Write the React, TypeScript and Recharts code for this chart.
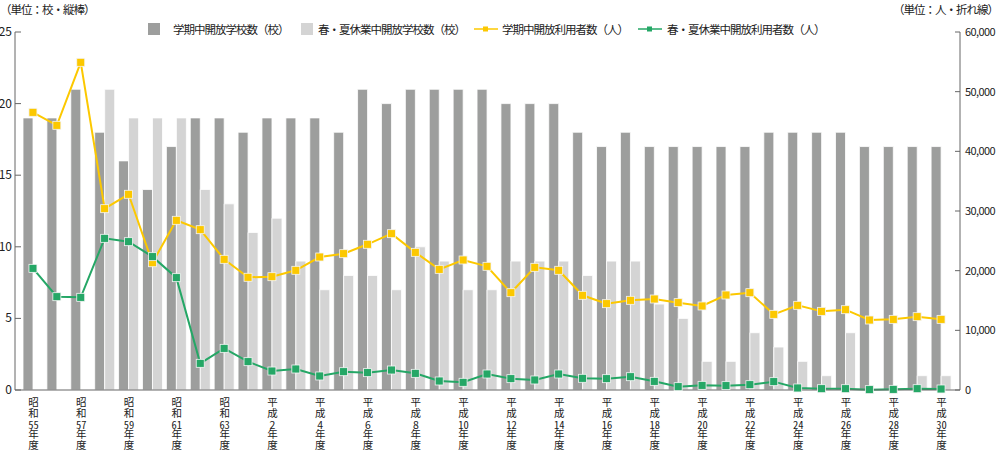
import React from 'react';
import { ComposedChart, Bar, Line, XAxis, YAxis } from 'recharts';

const categories = [
  '昭和55年度', '昭和56年度', '昭和57年度', '昭和58年度', '昭和59年度', '昭和60年度',
  '昭和61年度', '昭和62年度', '昭和63年度', '平成元年度', '平成2年度', '平成3年度',
  '平成4年度', '平成5年度', '平成6年度', '平成7年度', '平成8年度', '平成9年度',
  '平成10年度', '平成11年度', '平成12年度', '平成13年度', '平成14年度', '平成15年度',
  '平成16年度', '平成17年度', '平成18年度', '平成19年度', '平成20年度', '平成21年度',
  '平成22年度', '平成23年度', '平成24年度', '平成25年度', '平成26年度', '平成27年度',
  '平成28年度', '平成29年度', '平成30年度',
];

const termSchools = [19, 19, 21, 18, 16, 14, 17, 19, 19, 18, 19, 19, 19, 18, 21, 20, 21, 21, 21, 21, 20, 20, 20, 18, 17, 18, 17, 17, 17, 17, 17, 18, 18, 18, 18, 17, 17, 17, 17];
const vacationSchools = [0, 0, 0, 21, 19, 19, 19, 14, 13, 11, 12, 9, 7, 8, 8, 7, 10, 9, 7, 7, 9, 9, 9, 8, 9, 9, 6, 5, 2, 2, 4, 3, 2, 1, 4, 0, 0, 1, 1];
const termUsers = [46540, 44360, 54920, 30390, 32800, 21330, 28440, 26870, 21900, 18890, 18990, 20060, 22290, 22850, 24420, 26200, 23070, 20220, 21790, 20730, 16310, 20560, 20060, 15870, 14470, 15030, 15250, 14640, 14080, 15920, 16310, 12680, 14190, 13180, 13460, 11730, 11840, 12290, 11840];
const vacationUsers = [20390, 15640, 15530, 25420, 24860, 22350, 18830, 4470, 6980, 4750, 3180, 3520, 2350, 3070, 2910, 3350, 2790, 1510, 1290, 2680, 1900, 1680, 2680, 1960, 1900, 2230, 1450, 560, 780, 730, 890, 1400, 340, 220, 220, 60, 110, 220, 170];

const leftTicks = [0, 5, 10, 15, 20, 25];
const rightTicks = [0, 10000, 20000, 30000, 40000, 50000, 60000];

const seriesNames = {
  termSchools: '学期中開放学校数（校）',
  vacationSchools: '春・夏休業中開放学校数（校）',
  termUsers: '学期中開放利用者数（人）',
  vacationUsers: '春・夏休業中開放利用者数（人）',
};

const COLORS = {
  dark: '#9d9e9d',
  light: '#d4d4d4',
  yellow: '#fcc800',
  green: '#25a766',
  axis: '#666666',
  text: '#222222',
};

const FONT = "'Noto Sans CJK JP', 'Noto Sans', sans-serif";

const data = categories.map((c, i) => ({
  name: c,
  termSchools: termSchools[i],
  vacationSchools: vacationSchools[i],
  termUsers: termUsers[i],
  vacationUsers: vacationUsers[i],
}));

const XTick = (props: any) => {
  const { x, y, payload } = props;
  const s: string = payload.value;
  const era = s.slice(0, 2);
  const num = s.slice(2, -2);
  return (
    <foreignObject x={x - 10} y={y - 1} width={20} height={58}>
      <div
        style={{
          writingMode: 'vertical-rl',
          textOrientation: 'upright',
          width: 20,
          height: 58,
          lineHeight: '20px',
          fontSize: 10.5,
          letterSpacing: 0.3,
          fontFamily: FONT,
          color: COLORS.text,
          whiteSpace: 'nowrap',
        }}
      >
        {era}
        <span style={{ textCombineUpright: 'all' } as any}>{num}</span>
        年度
      </div>
    </foreignObject>
  );
};

const LeftTick = (props: any) => {
  const { x, y, payload } = props;
  return (
    <g>
      <line x1={x + 8} x2={x + 14} y1={y} y2={y} stroke={COLORS.axis} strokeWidth={1} />
      <text x={x + 5} y={y} dy={4} textAnchor="end" fontSize={12} fill={COLORS.text} fontFamily={FONT}>
        {payload.value}
      </text>
    </g>
  );
};

const RightTick = (props: any) => {
  const { x, y, payload } = props;
  return (
    <g>
      <line x1={x - 13} x2={x - 8} y1={y} y2={y} stroke={COLORS.axis} strokeWidth={1} />
      <text x={x - 3} y={y} dy={4} textAnchor="start" fontSize={11} letterSpacing={-0.6} fill={COLORS.text} fontFamily={FONT}>
        {Number(payload.value).toLocaleString('en-US')}
      </text>
    </g>
  );
};

const SquareDot = (color: string) => (props: any) => {
  const { cx, cy, index } = props;
  if (cx == null || cy == null) return <g key={index} />;
  return (
    <rect key={index} x={cx - 4} y={cy - 4} width={8} height={8} fill={color} stroke="#f4f4f4" strokeWidth={0.8} />
  );
};

const textStyle: React.CSSProperties = {
  position: 'absolute',
  fontFamily: FONT,
  fontSize: 11.5,
  letterSpacing: -1,
  color: COLORS.text,
  whiteSpace: 'nowrap',
  lineHeight: '14px',
};

const LineIcon = ({ color }: { color: string }) => (
  <svg width={24} height={8} style={{ display: 'block' }}>
    <line x1={0} x2={24} y1={4} y2={4} stroke={color} strokeWidth={1.5} />
    <rect x={9} y={1.5} width={5} height={5} fill={color} />
  </svg>
);

export default function App() {
  return (
    <div style={{ position: 'absolute', left: 0, top: 0, width: 1000, height: 453, background: '#fff' }}>
      <div style={{ ...textStyle, left: 0, top: 2 }}>（単位：校・縦棒）</div>
      <div style={{ ...textStyle, right: 2, top: 2 }}>（単位：人・折れ線）</div>

      <div style={{ position: 'absolute', left: 148, top: 23, width: 12, height: 12, background: COLORS.dark }} />
      <div style={{ ...textStyle, left: 173, top: 22 }}>{seriesNames.termSchools}</div>
      <div style={{ position: 'absolute', left: 301, top: 23, width: 12, height: 12, background: COLORS.light }} />
      <div style={{ ...textStyle, left: 318, top: 22 }}>{seriesNames.vacationSchools}</div>
      <div style={{ position: 'absolute', left: 474, top: 25 }}><LineIcon color={COLORS.yellow} /></div>
      <div style={{ ...textStyle, left: 502, top: 22 }}>{seriesNames.termUsers}</div>
      <div style={{ position: 'absolute', left: 638, top: 25 }}><LineIcon color={COLORS.green} /></div>
      <div style={{ ...textStyle, left: 667, top: 22 }}>{seriesNames.vacationUsers}</div>

      <ComposedChart
        width={1000}
        height={453}
        data={data}
        margin={{ top: 32, right: 0, bottom: 0, left: 0 }}
        barGap={0}
        style={{ position: 'absolute', left: 0, top: 0 }}
      >
        <XAxis
          dataKey="name"
          interval={1}
          height={63}
          padding={{ left: 6, right: 7 }}
          axisLine={{ stroke: COLORS.axis }}
          tickLine={false}
          tick={<XTick />}
        />
        <YAxis
          yAxisId="left"
          orientation="left"
          width={15}
          domain={[0, 25]}
          ticks={leftTicks}
          axisLine={{ stroke: COLORS.axis }}
          tickLine={false}
          tickSize={6}
          tickMargin={2}
          tick={<LeftTick />}
        />
        <YAxis
          yAxisId="right"
          orientation="right"
          width={40}
          domain={[0, 60000]}
          ticks={rightTicks}
          axisLine={{ stroke: COLORS.axis }}
          tickLine={false}
          tickSize={6}
          tickMargin={2}
          tick={<RightTick />}
        />
        <Bar yAxisId="left" dataKey="termSchools" name={seriesNames.termSchools} fill={COLORS.dark} stroke="#ffffff" strokeWidth={0.8} barSize={10} isAnimationActive={false} />
        <Bar yAxisId="left" dataKey="vacationSchools" name={seriesNames.vacationSchools} fill={COLORS.light} stroke="#ffffff" strokeWidth={0.8} barSize={10} isAnimationActive={false} />
        <Line yAxisId="right" dataKey="termUsers" name={seriesNames.termUsers} stroke={COLORS.yellow} strokeWidth={2} dot={SquareDot(COLORS.yellow)} activeDot={false} isAnimationActive={false} />
        <Line yAxisId="right" dataKey="vacationUsers" name={seriesNames.vacationUsers} stroke={COLORS.green} strokeWidth={2} dot={SquareDot(COLORS.green)} activeDot={false} isAnimationActive={false} />
      </ComposedChart>
    </div>
  );
}
